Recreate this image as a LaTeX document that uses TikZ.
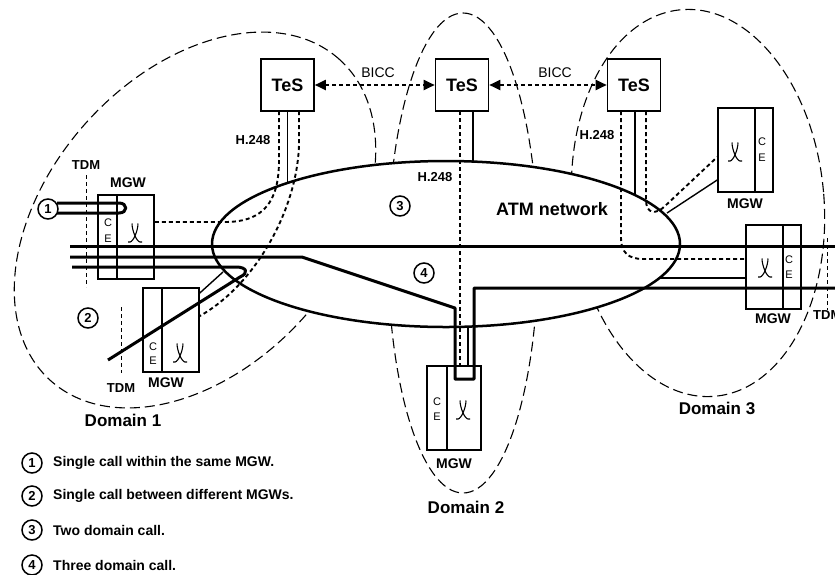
\documentclass[tikz,border=0pt]{standalone}
\usepackage{fontspec}
\setmainfont{Liberation Sans}
\usetikzlibrary{arrows.meta}
\begin{document}
\begin{tikzpicture}[x=1pt,y=-1pt,
  dom/.style={line width=1.1pt, dash pattern=on 10pt off 5pt},
  callline/.style={line width=3pt, line join=round},
  ctl/.style={line width=1.9pt, dash pattern=on 4pt off 3pt},
  bicc/.style={ctl, {Triangle[length=11pt,width=10pt]}-{Triangle[length=11pt,width=10pt]}},
  thinl/.style={line width=1.4pt},
  tdmline/.style={line width=1pt, dash pattern=on 4pt off 3pt},
  boxl/.style={line width=1.6pt},
  tesbox/.style={draw, line width=1.6pt, fill=white, inner sep=0pt, minimum width=53pt, minimum height=52pt, font=\fontsize{18}{20}\selectfont\bfseries},
  mgwbox/.style={draw, line width=1.6pt, fill=white, inner sep=0pt, minimum width=55pt, minimum height=84pt},
  lbl/.style={inner sep=0pt, font=\fontsize{14}{16}\selectfont\bfseries},
  smlbl/.style={inner sep=0pt, font=\fontsize{13}{15}\selectfont\bfseries},
  biglbl/.style={inner sep=0pt, font=\fontsize{17}{20}\selectfont\bfseries},
  celbl/.style={inner sep=0pt, font=\fontsize{11}{12}\selectfont},
  bicclbl/.style={inner sep=0pt, font=\fontsize{14}{16}\selectfont},
  circ/.style={draw, circle, line width=1.5pt, fill=white, inner sep=0pt, minimum size=20pt, font=\fontsize{13}{14}\selectfont\bfseries},
  legtxt/.style={inner sep=0pt, anchor=west, font=\fontsize{14}{16}\selectfont\bfseries},
  sw/.pic={\draw[line width=1.1pt] (-7,9) -- (-5,9) .. controls (-2,9) and (3,-2) .. (3,-9.5);
           \draw[line width=1.1pt] (7,9) -- (5,9) .. controls (2,9) and (-3,-2) .. (-3,-9.5);}
]
\useasboundingbox (0,0) rectangle (835,574);
\clip (0,0) rectangle (835,574);
\fill[white] (0,0) rectangle (835,574);

% domains
\draw[dom, rotate around={48:(195,220)}] (195,220) ellipse [x radius=216pt, y radius=146pt];
\draw[dom] (463,253) ellipse [x radius=75pt, y radius=240pt];
\draw[dom, rotate around={5:(698,203)}] (698,203) ellipse [x radius=126pt, y radius=194pt];

% ATM network
\draw[line width=2.5pt, fill=white] (446,244) ellipse [x radius=234pt, y radius=83pt];
\node[inner sep=0pt, font=\fontsize{18}{20}\selectfont\bfseries] (atm) at (552,209) {ATM network};

% TeS boxes
\node[tesbox] (tes1) at (287.5,85) {TeS};
\node[tesbox] (tes2) at (462,85) {TeS};
\node[tesbox] (tes3) at (634,85) {TeS};
\node[bicclbl] (bicc1) at (378,73) {BICC};
\node[bicclbl] (bicc2) at (555,73) {BICC};
\draw[bicc] (tes1.east) -- (tes2.west);
\draw[bicc] (tes2.east) -- (tes3.west);

% MGW boxes
\node[mgwbox, minimum width=56pt] (mgw1) at (126,237) {};
\node[mgwbox, minimum width=56pt] (mgw2) at (171,330) {};
\node[mgwbox, minimum width=54pt] (mgw3) at (454,408) {};
\node[mgwbox] (mgw4) at (773.5,267) {};
\node[mgwbox] (mgw5) at (745.5,150) {};
\draw[boxl] ([xshift=20pt]mgw1.north west) -- ([xshift=20pt]mgw1.south west);
\draw[boxl] ([xshift=20pt]mgw2.north west) -- ([xshift=20pt]mgw2.south west);
\draw[boxl] ([xshift=21pt]mgw3.north west) -- ([xshift=21pt]mgw3.south west);
\draw[boxl] ([xshift=-19pt]mgw4.north east) -- ([xshift=-19pt]mgw4.south east);
\draw[boxl] ([xshift=-19pt]mgw5.north east) -- ([xshift=-19pt]mgw5.south east);
\node[celbl] (c1c) at (108,223) {C}; \node[celbl] (c1e) at (108,239) {E};
\node[celbl] (c2c) at (153,347) {C}; \node[celbl] (c2e) at (153,361) {E};
\node[celbl] (c3c) at (437,402) {C}; \node[celbl] (c3e) at (437,417) {E};
\node[celbl] (c4c) at (789,260) {C}; \node[celbl] (c4e) at (789,275) {E};
\node[celbl] (c5c) at (762,142) {C}; \node[celbl] (c5e) at (762,158) {E};
\pic at (135,233) {sw};
\pic at (180,353) {sw};
\pic at (463,410) {sw};
\pic at (765,268) {sw};
\pic at (735,152) {sw};
\node[lbl] (m1) at (128,183) {MGW};
\node[lbl] (m2) at (166,383) {MGW};
\node[lbl] (m3) at (454,464) {MGW};
\node[lbl] (m4) at (773,319) {MGW};
\node[lbl] (m5) at (745,204) {MGW};

% TDM
\draw[tdmline] (86,175) -- (86,287);
\draw[tdmline] (121,307) -- (121,373);
\draw[tdmline] (827,238) -- (827,310);
\node[smlbl] (t1) at (86,165) {TDM};
\node[smlbl] (t2) at (121,388) {TDM};
\node[smlbl, anchor=west] (t3) at (813,315) {TDM};

% H.248 control links
\draw[thinl] (tes1.south) -- (287.5,182);
\draw[thinl] (473,111) -- (473,162);
\draw[thinl] (635,111) -- (635,194);
\draw[ctl] (279,111) -- (279,160) .. controls (279,200) and (265,222) .. (225,222) -- (mgw1.east |- 0,222);
\draw[ctl] (299,111) -- (299,145) .. controls (297,210) and (255,285) .. (mgw2.east |- 0,316);
\draw[ctl] (460,111) -- (460,365);
\draw[ctl] (621,111) -- (621,238) .. controls (621,252) and (628,259) .. (643,259) -- (mgw4.west |- 0,259);
\draw[ctl] (646,111) -- (646,200) .. controls (646,214) and (656,215) .. (665,206) -- (mgw5.west |- 0,157);
\node[smlbl] (h1) at (253,140) {H.248};
\node[smlbl] (h2) at (435,177) {H.248};
\node[smlbl] (h3) at (597,135) {H.248};

% thin bearer links
\draw[thinl] (mgw2.east |- 0,293) -- (223,272);
\draw[thinl] (660,278) -- (mgw4.west |- 0,278);
\draw[thinl] (mgw5.west |- 0,180) -- (667,213);
\draw[thinl] (468,327) -- (468,366);

% calls
\node[circ] (n1) at (48,209) {1};
\node[circ] (n2) at (88,318) {2};
\node[circ] (n3) at (400,206) {3};
\node[circ] (n4) at (424,273) {4};
\draw[callline] (57,203) -- (119,203) .. controls (128,203) and (128,213) .. (119,213) -- (57,213);
\draw[callline] (72,267) -- (236,267) .. controls (247,267) and (249,273) .. (240,277) -- (108,360);
\draw[callline] (70,246) -- (835,246);
\draw[callline] (70,257) -- (302,257) -- (455,308) -- (455,379) -- (474,379) -- (474,288) -- (835,288);

% domain labels
\node[biglbl] (d1) at (123,420) {Domain 1};
\node[biglbl] (d2) at (466,507) {Domain 2};
\node[biglbl] (d3) at (717,408) {Domain 3};

% legend
\node[circ, minimum size=20pt] (l1) at (32,463) {1};
\node[circ, minimum size=20pt] (l2) at (32,496) {2};
\node[circ, minimum size=20pt] (l3) at (32,530) {3};
\node[circ, minimum size=20pt] (l4) at (32,565) {4};
\node[legtxt] (lt1) at (53,463) {Single call within the same MGW.};
\node[legtxt] (lt2) at (53,496) {Single call between different MGWs.};
\node[legtxt] (lt3) at (53,530) {Two domain call.};
\node[legtxt] (lt4) at (53,565) {Three domain call.};
\end{tikzpicture}
\end{document}
